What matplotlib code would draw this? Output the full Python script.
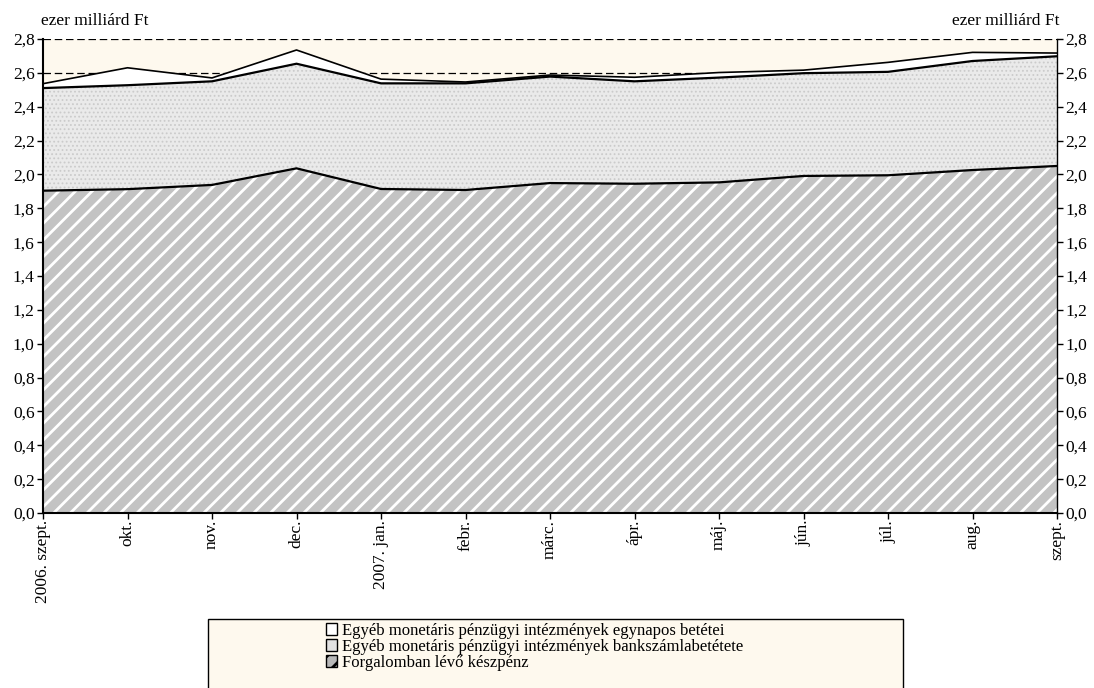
import numpy as np
import matplotlib
matplotlib.use("Agg")
import matplotlib.pyplot as plt
from matplotlib.patches import Patch, Rectangle
from matplotlib.ticker import FuncFormatter, MultipleLocator

# --- adatok (ezer milliárd Ft) ---
honapok = ["2006. szept.", "okt.", "nov.", "dec.", "2007. jan.", "febr.", "márc.",
           "ápr.", "máj.", "jún.", "júl.", "aug.", "szept."]
keszpenz = [1.904, 1.913, 1.938, 2.036, 1.914, 1.908, 1.949, 1.945, 1.953, 1.991, 1.995, 2.026, 2.050]
bankszamla = [0.606, 0.614, 0.612, 0.618, 0.624, 0.630, 0.629, 0.605, 0.619, 0.607, 0.611, 0.644, 0.648]
egynapos = [0.026, 0.103, 0.020, 0.081, 0.025, 0.008, 0.009, 0.024, 0.030, 0.018, 0.056, 0.051, 0.019]

nevek = ["Egyéb monetáris pénzügyi intézmények egynapos betétei",
         "Egyéb monetáris pénzügyi intézmények bankszámlabetétete",
         "Forgalomban lévő készpénz"]

plt.rcParams['font.family'] = ['Liberation Serif', 'DejaVu Serif']
plt.rcParams['font.size'] = 12.5
plt.rcParams['hatch.linewidth'] = 2.0

HATTER = '#fef9ee'

x = np.arange(len(honapok))
s1 = np.array(keszpenz)
s2 = s1 + np.array(bankszamla)
s3 = s2 + np.array(egynapos)

fig = plt.figure(figsize=(10.94, 6.88), dpi=100)
ax = fig.add_axes([43 / 1094, 1 - 513 / 688, 1014 / 1094, 474 / 688])
ax.set_facecolor(HATTER)

# rétegek
with plt.rc_context({'hatch.color': 'white'}):
    ax.fill_between(x, 0, s1, facecolor='#c3c3c3', edgecolor='white', hatch='//',
                    linewidth=0, zorder=1)
with plt.rc_context({'hatch.color': '#cbcbcb', 'hatch.linewidth': 0.8}):
    ax.fill_between(x, s1, s2, facecolor='#eaeaea', edgecolor='#cbcbcb', hatch='....',
                    linewidth=0, zorder=1)
ax.fill_between(x, s2, s3, facecolor='white', linewidth=0, zorder=1)

ax.plot(x, s1, color='black', lw=1.6, zorder=3)
ax.plot(x, s2, color='black', lw=1.6, zorder=3)
ax.plot(x, s3, color='black', lw=1.2, zorder=3)

# tengelyek
ax.set_xlim(0, len(honapok) - 1)
ax.set_ylim(0, 2.8)
ax.yaxis.set_major_locator(MultipleLocator(0.2))
ax.yaxis.set_major_formatter(FuncFormatter(lambda v, p: f"{v:.1f}".replace('.', ',')))
ax.set_xticks(x)
ax.set_xticklabels(honapok, rotation=90, va='top', ha='center')

ax.yaxis.grid(True, linestyle=(0, (6, 3)), color='black', linewidth=0.9)
ax.set_axisbelow(True)

ax.tick_params(axis='y', which='both', direction='out', length=4, width=1,
               left=True, right=True, labelleft=True, labelright=True, pad=2)
ax.tick_params(axis='x', direction='out', length=4, width=1, pad=1)

for side in ['left', 'bottom']:
    ax.spines[side].set_linewidth(1.5)
ax.spines['right'].set_linewidth(1.0)
ax.spines['top'].set_visible(False)

fig.text(41 / 1094, 1 - 13 / 688, "ezer milliárd Ft", ha='left', va='top', fontsize=12.5)
fig.text(1060 / 1094, 1 - 13 / 688, "ezer milliárd Ft", ha='right', va='top', fontsize=12.5)

# jelmagyarázat
keret = Rectangle((208 / 1094, -0.05), 695 / 1094, 0.05 + 1 - 619 / 688,
                  transform=fig.transFigure, facecolor=HATTER, edgecolor='black',
                  linewidth=1.0, zorder=0)
fig.add_artist(keret)

with plt.rc_context({'hatch.color': 'white'}):
    h3 = Patch(facecolor='#b8b8b8', edgecolor='black', hatch='//', linewidth=1.0)
h2 = Patch(facecolor='#e2e2e2', edgecolor='black', linewidth=1.0)
h1 = Patch(facecolor='white', edgecolor='black', linewidth=1.0)

leg = fig.legend([h1, h2, h3], nevek, loc='upper left',
                 bbox_to_anchor=(314 / 1094, 1 - 611 / 688), frameon=False,
                 handlelength=0.7, handleheight=0.7, handletextpad=0.3,
                 labelspacing=0.0, borderpad=0.2, fontsize=12)
leg.set_zorder(2)

fig.savefig("out.png", dpi=100)
